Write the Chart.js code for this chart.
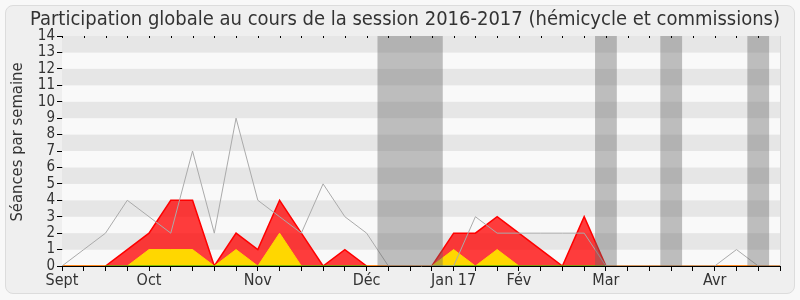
<!DOCTYPE html>
<html>
<head>
<meta charset="utf-8">
<script src="https://cdn.jsdelivr.net/npm/chart.js@4"></script>
<style>
  html, body { margin: 0; padding: 0; background: #f8f8f8; width: 800px; height: 300px; overflow: hidden; }
  #frame { position: absolute; left: 5px; top: 5px; width: 788px; height: 287px; border: 1px solid #dcdcdc; border-radius: 8px; background: #efefef; }
  #c { position: absolute; left: 0; top: 0; }
</style>
</head>
<body>
<div id="frame"></div>
<canvas id="c" width="800" height="300"></canvas>
<script>
// Weekly categories (34 weeks, Sept 2016 -> end Apr 2017); tick label only at month starts
const weekLabels = ['Sept','','','','Oct','','','','','Nov','','','','','Déc','','','','Jan 17','','','Fév','','','','Mar','','','','','Avr','','',''];
// Total sittings held per week (grey line)
const seancesTotal = [0,1,2,4,3,2,7,2,9,4,3,2,5,3,2,0,0,0,0,3,2,2,2,2,2,0,0,0,0,0,0,1,0,0];
// Presences: hémicycle + commissions (red area, top)
const presencesTotal = [0,0,0,1,2,4,4,0,2,1,4,2,0,1,0,0,0,0,2,2,3,2,1,0,3,0,0,0,0,0,0,0,0,0];
// Presences: hémicycle (yellow area)
const presencesHemicycle = [0,0,0,0,1,1,1,0,1,0,2,0,0,0,0,0,0,0,1,0,1,0,0,0,0,0,0,0,0,0,0,0,0,0];
// Interventions line (green, zero)
const interventions = [0,0,0,0,0,0,0,0,0,0,0,0,0,0,0,0,0,0,0,0,0,0,0,0,0,0,0,0,0,0,0,0,0,0];
// Holiday periods (in week index units)
const vacStart = [14.5, 24.5, 27.5, 31.5];
const vacEnd   = [17.5, 25.5, 28.5, 32.5];
const yTicks = [0,1,2,3,4,5,6,7,8,9,10,11,12,13,14];
const yTitle = 'Séances par semaine';

const FONT = "'DejaVu Sans Condensed', 'DejaVu Sans', sans-serif";

const decor = {
  id: 'decor',
  beforeDatasetsDraw(chart) {
    const {ctx, chartArea: a, scales: {y}} = chart;
    ctx.save();
    for (let i = 0; i < yTicks.length - 1; i++) {
      const y0 = y.getPixelForValue(yTicks[i]);
      const y1 = y.getPixelForValue(yTicks[i + 1]);
      ctx.fillStyle = (i % 2 === 0) ? '#f9f9f9' : '#e6e6e6';
      ctx.fillRect(a.left, y1, a.right - a.left, y0 - y1);
    }
    ctx.restore();
  },
  afterDatasetsDraw(chart) {
    const {ctx, chartArea: a, scales: {x}} = chart;
    ctx.save();
    ctx.fillStyle = 'rgba(100,100,100,0.4)';
    for (let i = 0; i < vacStart.length; i++) {
      const x0 = x.getPixelForValue(vacStart[i]);
      const x1 = x.getPixelForValue(vacEnd[i]);
      ctx.fillRect(x0, a.top, x1 - x0, a.bottom - a.top);
    }
    // top tick marks
    ctx.fillStyle = '#000';
    for (let i = 0; i < weekLabels.length; i++) {
      const px = Math.round(x.getPixelForValue(i));
      ctx.fillRect(px, a.top, 1, 2);
    }
    // right border
    ctx.strokeStyle = '#d8d8d8';
    ctx.lineWidth = 1;
    ctx.beginPath();
    ctx.moveTo(a.right + 0.5, a.top);
    ctx.lineTo(a.right + 0.5, a.bottom);
    ctx.stroke();
    ctx.restore();
  },
  afterDraw(chart) {
    const {ctx} = chart;
    ctx.save();
    ctx.translate(18, 142);
    ctx.rotate(-Math.PI / 2);
    ctx.fillStyle = '#333';
    ctx.font = "16.5px " + FONT;
    ctx.textAlign = 'center';
    ctx.textBaseline = 'middle';
    ctx.fillText(yTitle, 0, 0);
    ctx.restore();
  }
};

new Chart(document.getElementById('c'), {
  type: 'line',
  data: {
    labels: weekLabels,
    datasets: [
      {
        label: 'Séances',
        data: seancesTotal,
        borderColor: 'rgb(170,170,170)',
        borderWidth: 1,
        pointRadius: 0,
        fill: false,
        tension: 0,
        order: 0
      },
      {
        label: 'Interventions',
        data: interventions,
        borderColor: '#00a000',
        borderWidth: 1,
        pointRadius: 0,
        fill: false,
        tension: 0,
        order: 1,
        segment: {
          borderColor: c => (presencesTotal[c.p0DataIndex] > 0 || presencesTotal[c.p1DataIndex] > 0) ? '#00a000' : 'rgba(0,0,0,0)'
        }
      },
      {
        label: 'Hémicycle',
        data: presencesHemicycle,
        borderColor: 'rgb(255,215,0)',
        backgroundColor: 'rgb(255,215,0)',
        borderWidth: 1,
        pointRadius: 0,
        fill: 'origin',
        tension: 0,
        order: 2
      },
      {
        label: 'Commissions',
        data: presencesTotal,
        borderColor: 'rgb(255,0,0)',
        backgroundColor: 'rgba(255,0,0,0.76)',
        borderWidth: 1.5,
        pointRadius: 0,
        fill: 'origin',
        tension: 0,
        order: 3
      }
    ]
  },
  options: {
    responsive: false,
    animation: false,
    devicePixelRatio: 1,
    layout: { padding: { left: 30, right: 20, top: 2, bottom: 0 } },
    plugins: {
      legend: { display: false },
      tooltip: { enabled: false },
      title: {
        display: true,
        text: 'Participation globale au cours de la session 2016-2017 (hémicycle et commissions)',
        color: '#333',
        font: { family: FONT, size: 20, weight: 'normal' },
        padding: { top: 6, bottom: 4 }
      }
    },
    scales: {
      x: {
        type: 'category',
        offset: false,
        grid: { display: true, drawOnChartArea: false, drawTicks: true, tickLength: 5, color: '#000' },
        border: { display: true, color: '#000' },
        ticks: {
          autoSkip: false, maxRotation: 0, minRotation: 0, padding: 0,
          color: '#333', font: { family: FONT, size: 16 }
        },
        afterFit: s => { s.height = 34; }
      },
      y: {
        min: 0, max: 14,
        grid: { display: true, drawOnChartArea: false, drawTicks: true, tickLength: 5, color: '#000' },
        border: { display: true, color: '#000' },
        ticks: { stepSize: 1, autoSkip: false, padding: 2, color: '#333', font: { family: FONT, size: 15 } },
        title: { display: false },
        afterFit: s => { s.width = 32; }
      }
    }
  },
  plugins: [decor]
});
</script>
</body>
</html>
